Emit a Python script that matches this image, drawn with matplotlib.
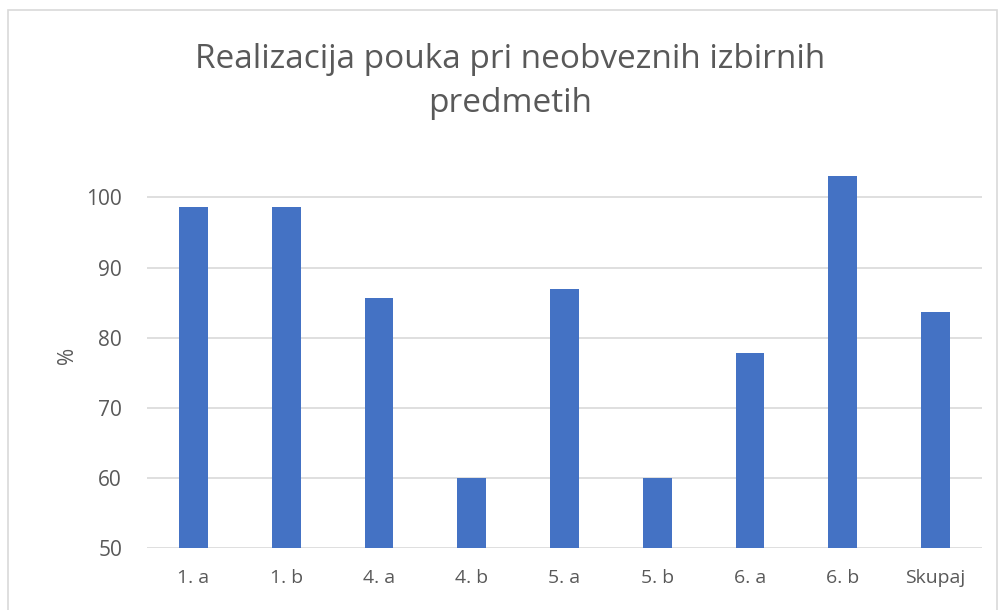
import matplotlib
matplotlib.use("Agg")
import matplotlib.pyplot as plt
from matplotlib.patches import Rectangle

categories = ["1. a", "1. b", "4. a", "4. b", "5. a", "5. b", "6. a", "6. b", "Skupaj"]
values = [98.6, 98.6, 85.7, 60.0, 87.0, 60.0, 77.8, 103.0, 83.7]
yticks = [50, 60, 70, 80, 90, 100]
title = "Realizacija pouka pri neobveznih izbirnih\npredmetih"

plt.rcParams['font.family'] = ['Open Sans', 'DejaVu Sans']
fig = plt.figure(figsize=(10, 6.1), dpi=100)
ax = fig.add_axes([0.147, 0.1011, 0.835, 0.633])

x = range(len(categories))
ax.bar(x, values, width=0.31, color="#4472c4", bottom=0, zorder=3)
ax.set_xlim(-0.5, len(categories) - 0.5)
ax.set_ylim(50, 105)
ax.set_yticks(yticks)
ax.set_xticks(list(x))
ax.set_xticklabels(categories)
ax.grid(axis='y', color="#d9d9d9", linewidth=1.2, zorder=0)
for s in ax.spines.values():
    s.set_visible(False)
ax.tick_params(axis='both', length=0, colors="#595959")
ax.tick_params(axis='y', labelsize=15, pad=18)
ax.tick_params(axis='x', labelsize=14, pad=15)
ax.set_ylabel("%", color="#595959", fontsize=15, labelpad=6)

fig.text(0.51, 0.867, title, ha='center', va='center', fontsize=24,
         color="#595959", linespacing=1.45)

fig.patches.append(Rectangle((0.008, -0.1), 0.989, 1.083, transform=fig.transFigure,
                             fill=False, edgecolor="#d9d9d9", linewidth=1.2))

fig.savefig("out.png", dpi=100, facecolor="white")
